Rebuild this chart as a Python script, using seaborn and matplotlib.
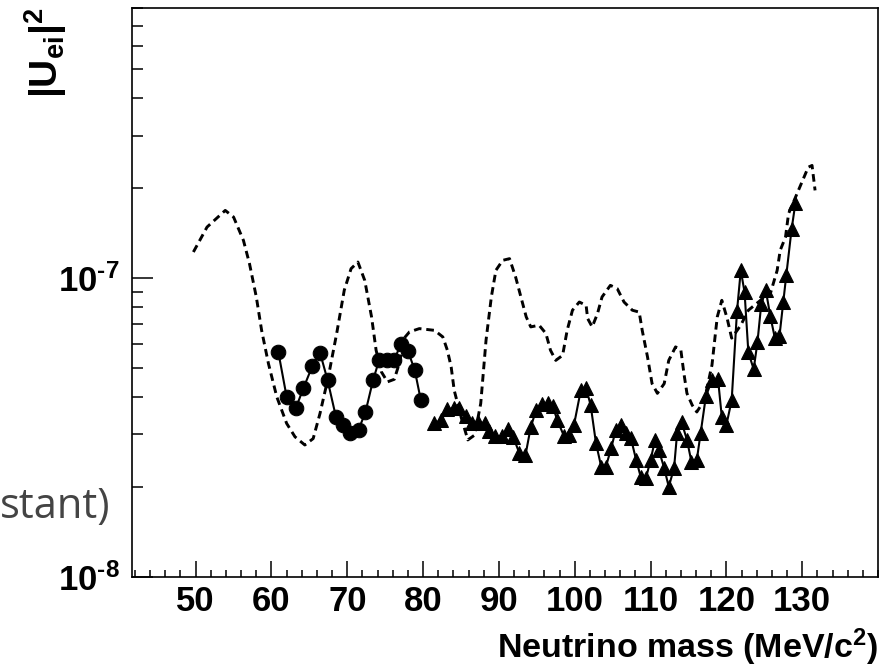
import numpy as np
import pandas as pd
import matplotlib
matplotlib.use("Agg")
import matplotlib.pyplot as plt
import seaborn as sns
from matplotlib.ticker import MultipleLocator, LogLocator, NullFormatter, FixedLocator

# ---- data ----
circle_mass = [60.9, 62.0, 63.2, 64.2, 65.4, 66.4, 67.4, 68.5, 69.4, 70.4,
               71.5, 72.4, 73.4, 74.2, 75.3, 76.2, 77.1, 78.0, 78.9, 79.7]
circle_u2 = [5.66e-8, 4.00e-8, 3.66e-8, 4.27e-8, 5.08e-8, 5.63e-8, 4.55e-8, 3.43e-8, 3.22e-8, 3.02e-8,
             3.11e-8, 3.56e-8, 4.55e-8, 5.31e-8, 5.33e-8, 5.33e-8, 6.03e-8, 5.70e-8, 4.91e-8, 3.90e-8]

tri_mass = [81.5, 82.4, 83.2, 84.1, 84.8, 85.6, 86.4, 87.3, 88.1, 88.7,
            89.5, 90.4, 91.2, 91.9, 92.7, 93.5, 94.2, 94.9, 95.7, 96.5,
            97.1, 97.7, 98.6, 99.2, 99.9, 100.8, 101.5, 102.1, 102.8, 103.5,
            104.1, 104.8, 105.4, 106.1, 106.8, 107.4, 108.1, 108.7, 109.4, 110.0,
            110.6, 111.1, 111.8, 112.4, 113.1, 113.5, 114.1, 114.8, 115.4, 116.1,
            116.6, 117.3, 118.1, 118.9, 119.4, 120.0, 120.7, 121.4, 121.9, 122.4,
            122.9, 123.6, 124.1, 124.6, 125.2, 125.8, 126.4, 127.0, 127.5, 127.9,
            128.6, 129.1]
tri_u2 = [3.27e-8, 3.34e-8, 3.64e-8, 3.67e-8, 3.67e-8, 3.45e-8, 3.27e-8, 3.29e-8, 3.27e-8, 3.07e-8,
          2.95e-8, 2.95e-8, 3.12e-8, 2.93e-8, 2.59e-8, 2.55e-8, 3.17e-8, 3.61e-8, 3.78e-8, 3.81e-8,
          3.72e-8, 3.34e-8, 2.95e-8, 2.98e-8, 3.22e-8, 4.21e-8, 4.28e-8, 3.75e-8, 2.80e-8, 2.33e-8,
          2.33e-8, 2.69e-8, 3.09e-8, 3.22e-8, 3.02e-8, 2.91e-8, 2.46e-8, 2.16e-8, 2.14e-8, 2.46e-8,
          2.87e-8, 2.65e-8, 2.31e-8, 2.00e-8, 2.31e-8, 3.02e-8, 3.29e-8, 2.87e-8, 2.42e-8, 2.46e-8,
          3.02e-8, 4.02e-8, 4.55e-8, 4.58e-8, 3.42e-8, 3.22e-8, 3.90e-8, 7.74e-8, 10.61e-8, 8.96e-8,
          5.64e-8, 4.95e-8, 6.10e-8, 8.17e-8, 9.10e-8, 7.44e-8, 6.29e-8, 6.38e-8, 8.29e-8, 10.21e-8,
          14.55e-8, 17.78e-8]

dash_mass = [49.7, 51.5, 53.9, 55.0, 56.3, 57.1, 58.0, 58.7, 59.6, 60.7,
             62.0, 63.1, 64.4, 65.5, 66.4, 67.5, 68.6, 69.6, 70.5, 71.4,
             72.3, 73.2, 73.8, 74.5, 75.3, 76.2, 76.9, 77.5, 78.2, 79.5,
             81.5, 82.6, 83.2, 83.7, 84.1, 85.0, 85.9, 86.8, 87.6, 88.3,
             89.0, 89.6, 90.5, 91.4, 92.2, 92.9, 93.6, 94.2, 95.3, 96.2,
             96.8, 97.5, 98.4, 99.0, 99.7, 100.6, 101.5, 101.7, 102.3, 103.0,
             103.6, 104.7, 105.6, 106.5, 107.6, 108.5, 108.9, 109.6, 110.2, 110.9,
             111.8, 112.4, 113.3, 114.0, 114.4, 114.8, 115.5, 116.1, 117.1, 118.1,
             118.6, 118.8, 119.4, 120.1, 120.7, 121.9, 122.9, 124.5, 125.8, 126.7,
             127.1, 127.8, 128.2, 129.5, 130.8, 131.3, 131.7]
dash_u2 = [12.22e-8, 14.81e-8, 16.84e-8, 16.0e-8, 13.37e-8, 11.17e-8, 8.64e-8, 6.68e-8, 5.17e-8, 4.00e-8,
           3.26e-8, 2.94e-8, 2.76e-8, 2.90e-8, 3.52e-8, 4.67e-8, 6.52e-8, 9.10e-8, 10.75e-8, 11.31e-8,
           9.82e-8, 7.41e-8, 5.73e-8, 4.85e-8, 4.49e-8, 4.58e-8, 5.22e-8, 6.29e-8, 6.60e-8, 6.77e-8,
           6.68e-8, 6.35e-8, 5.73e-8, 5.04e-8, 4.21e-8, 3.43e-8, 2.87e-8, 2.98e-8, 3.80e-8, 6.19e-8,
           8.64e-8, 10.61e-8, 11.46e-8, 11.61e-8, 10.08e-8, 8.64e-8, 7.41e-8, 6.86e-8, 6.95e-8, 6.52e-8,
           5.73e-8, 5.30e-8, 5.51e-8, 6.68e-8, 7.80e-8, 8.31e-8, 8.10e-8, 7.32e-8, 6.86e-8, 7.60e-8,
           8.64e-8, 9.45e-8, 9.22e-8, 8.31e-8, 7.80e-8, 7.69e-8, 6.68e-8, 5.44e-8, 4.43e-8, 4.11e-8,
           4.43e-8, 5.30e-8, 5.88e-8, 5.73e-8, 4.79e-8, 4.11e-8, 3.75e-8, 3.56e-8, 3.90e-8, 5.11e-8,
           6.68e-8, 7.41e-8, 8.42e-8, 7.33e-8, 6.29e-8, 6.95e-8, 7.80e-8, 8.42e-8, 8.87e-8, 10.61e-8,
           12.38e-8, 13.71e-8, 16.42e-8, 19.65e-8, 23.5e-8, 23.82e-8, 19.65e-8]

x_major_ticks = [50, 60, 70, 80, 90, 100, 110, 120, 130]
y_major_ticks = [1e-8, 1e-7]
y_tick_labels = [r'10$^{\text{-8}}$', r'10$^{\text{-7}}$']
x_label = r'Neutrino mass (MeV/c$^{2}$)'
y_label = r'$|U_{ei}|^{2}$'

# ---- style ----
sns.set_style("ticks")
plt.rcParams['font.family'] = ['Liberation Sans', 'DejaVu Sans']
plt.rcParams['font.weight'] = 'bold'
plt.rcParams['text.color'] = 'black'
plt.rcParams['axes.labelcolor'] = 'black'
plt.rcParams['xtick.color'] = 'black'
plt.rcParams['ytick.color'] = 'black'
plt.rcParams['axes.edgecolor'] = 'black'
plt.rcParams['mathtext.fontset'] = 'custom'
plt.rcParams['mathtext.rm'] = 'Liberation Sans:bold'
plt.rcParams['mathtext.bf'] = 'Liberation Sans:bold'
plt.rcParams['mathtext.it'] = 'Liberation Sans:bold'
plt.rcParams['mathtext.sf'] = 'Liberation Sans:bold'
plt.rcParams['mathtext.default'] = 'bf'
plt.rcParams['lines.scale_dashes'] = False

fig = plt.figure(figsize=(8.81, 6.69), dpi=100)
ax = fig.add_axes([0.1498, 0.138, 0.8468, 0.8496])

df_dash = pd.DataFrame({'m': dash_mass, 'u2': dash_u2})
df_c = pd.DataFrame({'m': circle_mass, 'u2': circle_u2})
df_t = pd.DataFrame({'m': tri_mass, 'u2': tri_u2})

sns.lineplot(data=df_dash, x='m', y='u2', ax=ax, color='black', linewidth=2.1,
             estimator=None, sort=False)
ax.lines[-1].set_dashes((5.5, 3.5))
sns.lineplot(data=df_c, x='m', y='u2', ax=ax, color='black', linewidth=1.5,
             marker='o', markersize=10.5, markeredgecolor='black', markerfacecolor='black',
             estimator=None, sort=False)
sns.lineplot(data=df_t, x='m', y='u2', ax=ax, color='black', linewidth=1.5,
             marker='^', markersize=10.5, markeredgecolor='black', markerfacecolor='black',
             estimator=None, sort=False)

ax.set_yscale('log')
ax.set_xlim(41.6, 140)
ax.set_ylim(1e-8, 8e-7)

ax.xaxis.set_major_locator(FixedLocator(x_major_ticks))
ax.xaxis.set_minor_locator(MultipleLocator(2))
ax.yaxis.set_major_locator(FixedLocator(y_major_ticks))
ax.set_yticklabels(y_tick_labels)
ax.yaxis.set_minor_locator(LogLocator(base=10, subs=np.arange(2, 10)))
ax.yaxis.set_minor_formatter(NullFormatter())

ax.tick_params(axis='x', which='major', direction='in', length=11.5, width=1.1,
               labelsize=25, pad=6, top=False, colors='black')
ax.tick_params(axis='x', which='minor', direction='in', length=5.4, width=1.1, top=False, colors='black')
ax.tick_params(axis='y', which='major', direction='in', length=15, width=1.1,
               labelsize=25, pad=9, right=False, colors='black')
ax.tick_params(axis='y', which='minor', direction='in', length=8, width=1.1, right=False, colors='black')
for s in ax.spines.values():
    s.set_linewidth(1.2)
    s.set_color('black')

ax.set_xlabel('')
ax.set_ylabel('')
fig.text(0.9966, 1 - 647 / 669, x_label, ha='right', va='center', fontsize=24.5,
         fontweight='bold', color='black')
fig.text(46 / 881, 1 - 8 / 669, y_label, rotation=90, ha='center', va='top', fontsize=28,
         color='black')
fig.text(110 / 881, (669 - 518) / 669, 'stant)', ha='right', va='baseline', fontsize=30,
         family=['Open Sans', 'DejaVu Sans'], fontweight='normal', color='#444444')

fig.savefig('out.png', dpi=100)
